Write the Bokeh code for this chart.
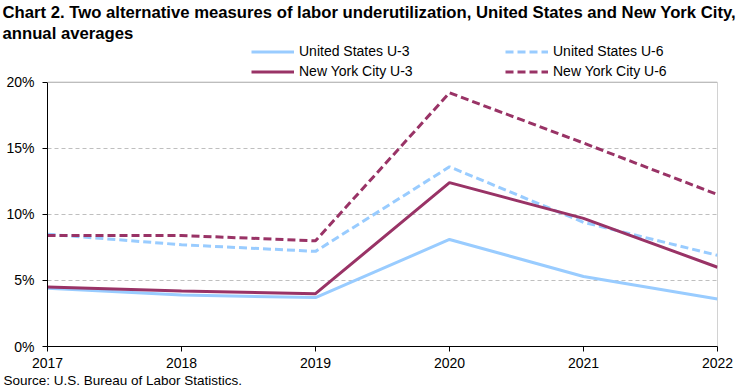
from bokeh.plotting import figure
from bokeh.models import (ColumnDataSource, FixedTicker, PrintfTickFormatter,
                          Legend, LegendItem, Title, Range1d, Span)
from bokeh.embed import file_html
from bokeh.resources import INLINE

# ---- data ----
years = [2017, 2018, 2019, 2020, 2021, 2022]
us_u3 = [4.4, 3.9, 3.7, 8.1, 5.3, 3.6]
us_u6 = [8.5, 7.7, 7.2, 13.6, 9.4, 6.9]
nyc_u3 = [4.5, 4.2, 4.0, 12.4, 9.7, 6.0]
nyc_u6 = [8.4, 8.4, 8.0, 19.2, 15.4, 11.5]
series_names = ["United States U-3", "United States U-6", "New York City U-3", "New York City U-6"]
y_ticks = [0, 5, 10, 15, 20]
title_lines = ["Chart 2. Two alternative measures of labor underutilization, United States and New York City,",
               "annual averages"]
source_note = "Source: U.S. Bureau of Labor Statistics."

FONT = "Liberation Sans"
BLUE = "#99CCFF"
MAROON = "#993366"
GRID = "#BFBFBF"
BORDER = "#A6A6A6"

src = ColumnDataSource(dict(year=years, us_u3=us_u3, us_u6=us_u6, nyc_u3=nyc_u3, nyc_u6=nyc_u6))

W, H = 748, 391
FL = 47          # frame left (canvas px)
FR = 31          # right border
FT = 40          # frame top - legend lives inside the frame above the 20% line
MB = 45          # bottom border
TOP20 = 80       # canvas y of the 20% line
y_top = y_ticks[-1]
y_end = y_top * (H - MB - FT) / (H - MB - TOP20)

p = figure(width=W, height=H, output_backend="svg", toolbar_location=None,
           x_range=Range1d(years[0], years[-1]), y_range=Range1d(0, y_end),
           min_border_left=FL, min_border_right=FR, min_border_top=FT, min_border_bottom=MB)
p.outline_line_color = None

# axes
p.xaxis.ticker = FixedTicker(ticks=years)
p.yaxis.ticker = FixedTicker(ticks=y_ticks)
p.yaxis.formatter = PrintfTickFormatter(format="%d%%")
p.yaxis.bounds = (y_ticks[0], y_ticks[-1])
for ax in (p.xaxis[0], p.yaxis[0]):
    ax.axis_line_color = "black"
    ax.axis_line_width = 1
    ax.major_tick_line_color = "black"
    ax.major_tick_out = 5
    ax.major_tick_in = 0
    ax.minor_tick_line_color = None
    ax.major_label_text_font = FONT
    ax.major_label_text_font_size = "14px"
    ax.major_label_text_color = "black"
p.yaxis.major_label_standoff = 8
p.xaxis.major_label_standoff = 6

# grid
p.xgrid.grid_line_color = None
p.ygrid.ticker = FixedTicker(ticks=y_ticks[1:-1])
p.ygrid.grid_line_color = GRID
p.ygrid.grid_line_dash = "4 3"
p.ygrid.grid_line_width = 1

# plot-area border (top at 20 %, right at last year)
p.add_layout(Span(location=y_top, dimension="width", line_color=BORDER, line_width=1))
p.segment(x0=[years[-1]], y0=[y_ticks[0]], x1=[years[-1]], y1=[y_top],
          line_color=BORDER, line_width=1)

# lines
r_us3 = p.line("year", "us_u3", source=src, line_color=BLUE, line_width=3)
r_us6 = p.line("year", "us_u6", source=src, line_color=BLUE, line_width=3, line_dash="8 4")
r_ny3 = p.line("year", "nyc_u3", source=src, line_color=MAROON, line_width=3)
r_ny6 = p.line("year", "nyc_u6", source=src, line_color=MAROON, line_width=3, line_dash="8 4")

frame_bottom = H - MB


def make_legend(items, x_canvas, bottom_canvas):
    return Legend(items=items, location=(x_canvas - FL, frame_bottom - bottom_canvas),
                  orientation="vertical", padding=0, margin=0, spacing=4,
                  glyph_width=43, glyph_height=15, label_height=15, label_standoff=5,
                  label_text_font=FONT, label_text_font_size="14px", label_text_color="black",
                  border_line_color=None, background_fill_alpha=0)


p.add_layout(make_legend([LegendItem(label=series_names[0], renderers=[r_us3]),
                          LegendItem(label=series_names[2], renderers=[r_ny3])], 251, 79))
p.add_layout(make_legend([LegendItem(label=series_names[1], renderers=[r_us6]),
                          LegendItem(label=series_names[3], renderers=[r_ny6])], 505, 79))

# title lines (second line nearer the plot)
p.add_layout(Title(text=title_lines[1], text_font=FONT, text_font_size="16.7px",
                   text_font_style="bold", text_color="black", align="left",
                   offset=2 - FL, standoff=0), "above")
p.title.text = title_lines[0]
p.title.text_font = FONT
p.title.text_font_size = "16.7px"
p.title.text_font_style = "bold"
p.title.text_color = "black"
p.title.align = "left"
p.title.offset = 2 - FL
p.title.standoff = 0

p.add_layout(Title(text=source_note, text_font=FONT, text_font_size="13.5px",
                   text_font_style="normal", text_color="black", align="left",
                   offset=3 - FL, standoff=0), "below")

open("out.html", "w").write(file_html(p, INLINE))
